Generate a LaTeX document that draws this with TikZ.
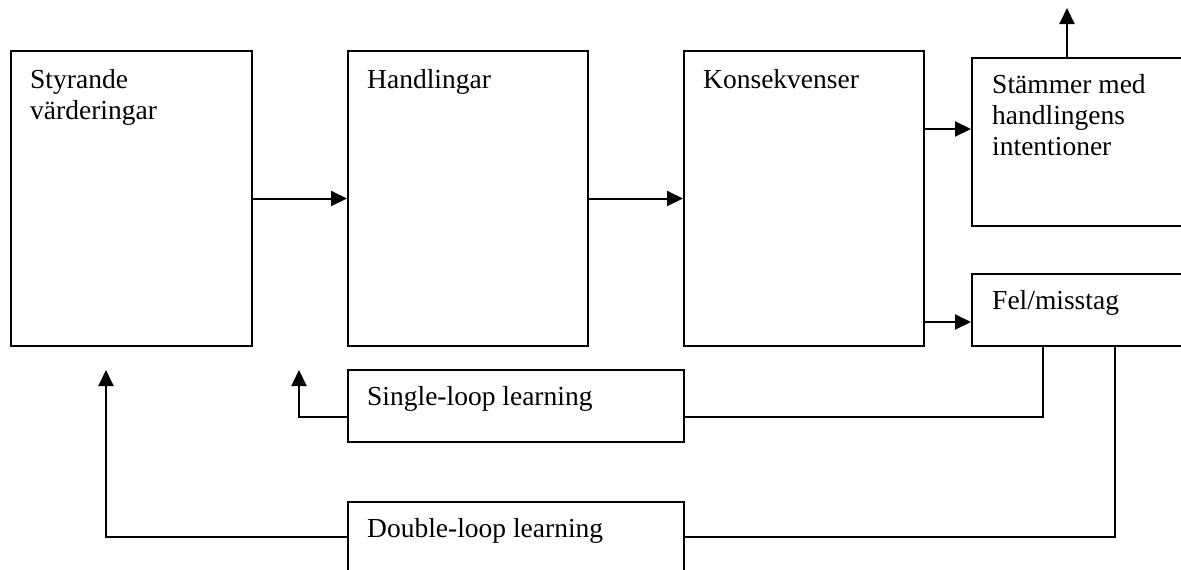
\documentclass[tikz,border=0pt]{standalone}
\usepackage{fontspec}
\setmainfont{Liberation Serif}
\usetikzlibrary{arrows.meta,calc}
\begin{document}
\begin{tikzpicture}[x=1pt,y=-1pt,
  box/.style={draw,line width=2pt,rectangle,inner sep=0pt,anchor=north west},
  lbl/.style={inner sep=0pt,anchor=north west,align=left,font={\fontsize{27.5}{31}\selectfont}},
  conn/.style={line width=2pt},
  arr/.style={line width=2pt,-{Triangle[length=16pt,width=15pt]}}]
\useasboundingbox (0,0) rectangle (1181,570);
% boxes
\node[box,minimum width=241pt,minimum height=295pt] (b1) at (10,50) {};
\node[box,minimum width=240pt,minimum height=295pt] (b2) at (347,50) {};
\node[box,minimum width=240pt,minimum height=295pt] (b3) at (683,50) {};
\node[box,minimum width=240pt,minimum height=168pt] (b4) at (971,57) {};
\node[box,minimum width=240pt,minimum height=72pt] (b5) at (971,273) {};
\node[box,minimum width=336pt,minimum height=72pt] (bs) at (347,369) {};
\node[box,minimum width=336pt,minimum height=100pt] (bd) at (347,501) {};
% labels
\node[lbl] (t1) at ($(b1.north west)+(20,19)$) {Styrande\\värderingar};
\node[lbl] (t2) at ($(b2.north west)+(20,19)$) {Handlingar};
\node[lbl] (t3) at ($(b3.north west)+(20,19)$) {Konsekvenser};
\node[lbl] (t4) at ($(b4.north west)+(21,17)$) {Stämmer med\\handlingens\\intentioner};
\node[lbl] (t5) at ($(b5.north west)+(21,17)$) {Fel/misstag};
\node[lbl] (ts) at ($(bs.north west)+(20,17)$) {Single-loop learning};
\node[lbl] (td) at ($(bd.north west)+(20,17)$) {Double-loop learning};
% coordinates
\coordinate (top) at (1067,8);
\coordinate (sTip) at (299,370);
\coordinate (dTip) at (106,370);
\coordinate (sY) at (0,417);
\coordinate (dY) at (0,537);
% main arrows
\draw[arr] (b1.east) -- (b2.west);
\draw[arr] (b2.east) -- (b3.west);
\draw[arr] (b3.east |- 0,129) -- (b4.west |- 0,129);
\draw[arr] (b3.east |- 0,322) -- (b5.west |- 0,322);
\draw[arr] (b4.north -| top) -- (top);
% single loop
\draw[conn] (b5.south -| 1043,0) -- (1043,417) -- (bs.east |- sY);
\draw[arr] (bs.west |- sY) -- (sTip |- sY) -- (sTip);
% double loop
\draw[conn] (b5.south -| 1115,0) -- (1115,537) -- (bd.east |- dY);
\draw[arr] (bd.west |- dY) -- (dTip |- dY) -- (dTip);
\end{tikzpicture}
\end{document}
